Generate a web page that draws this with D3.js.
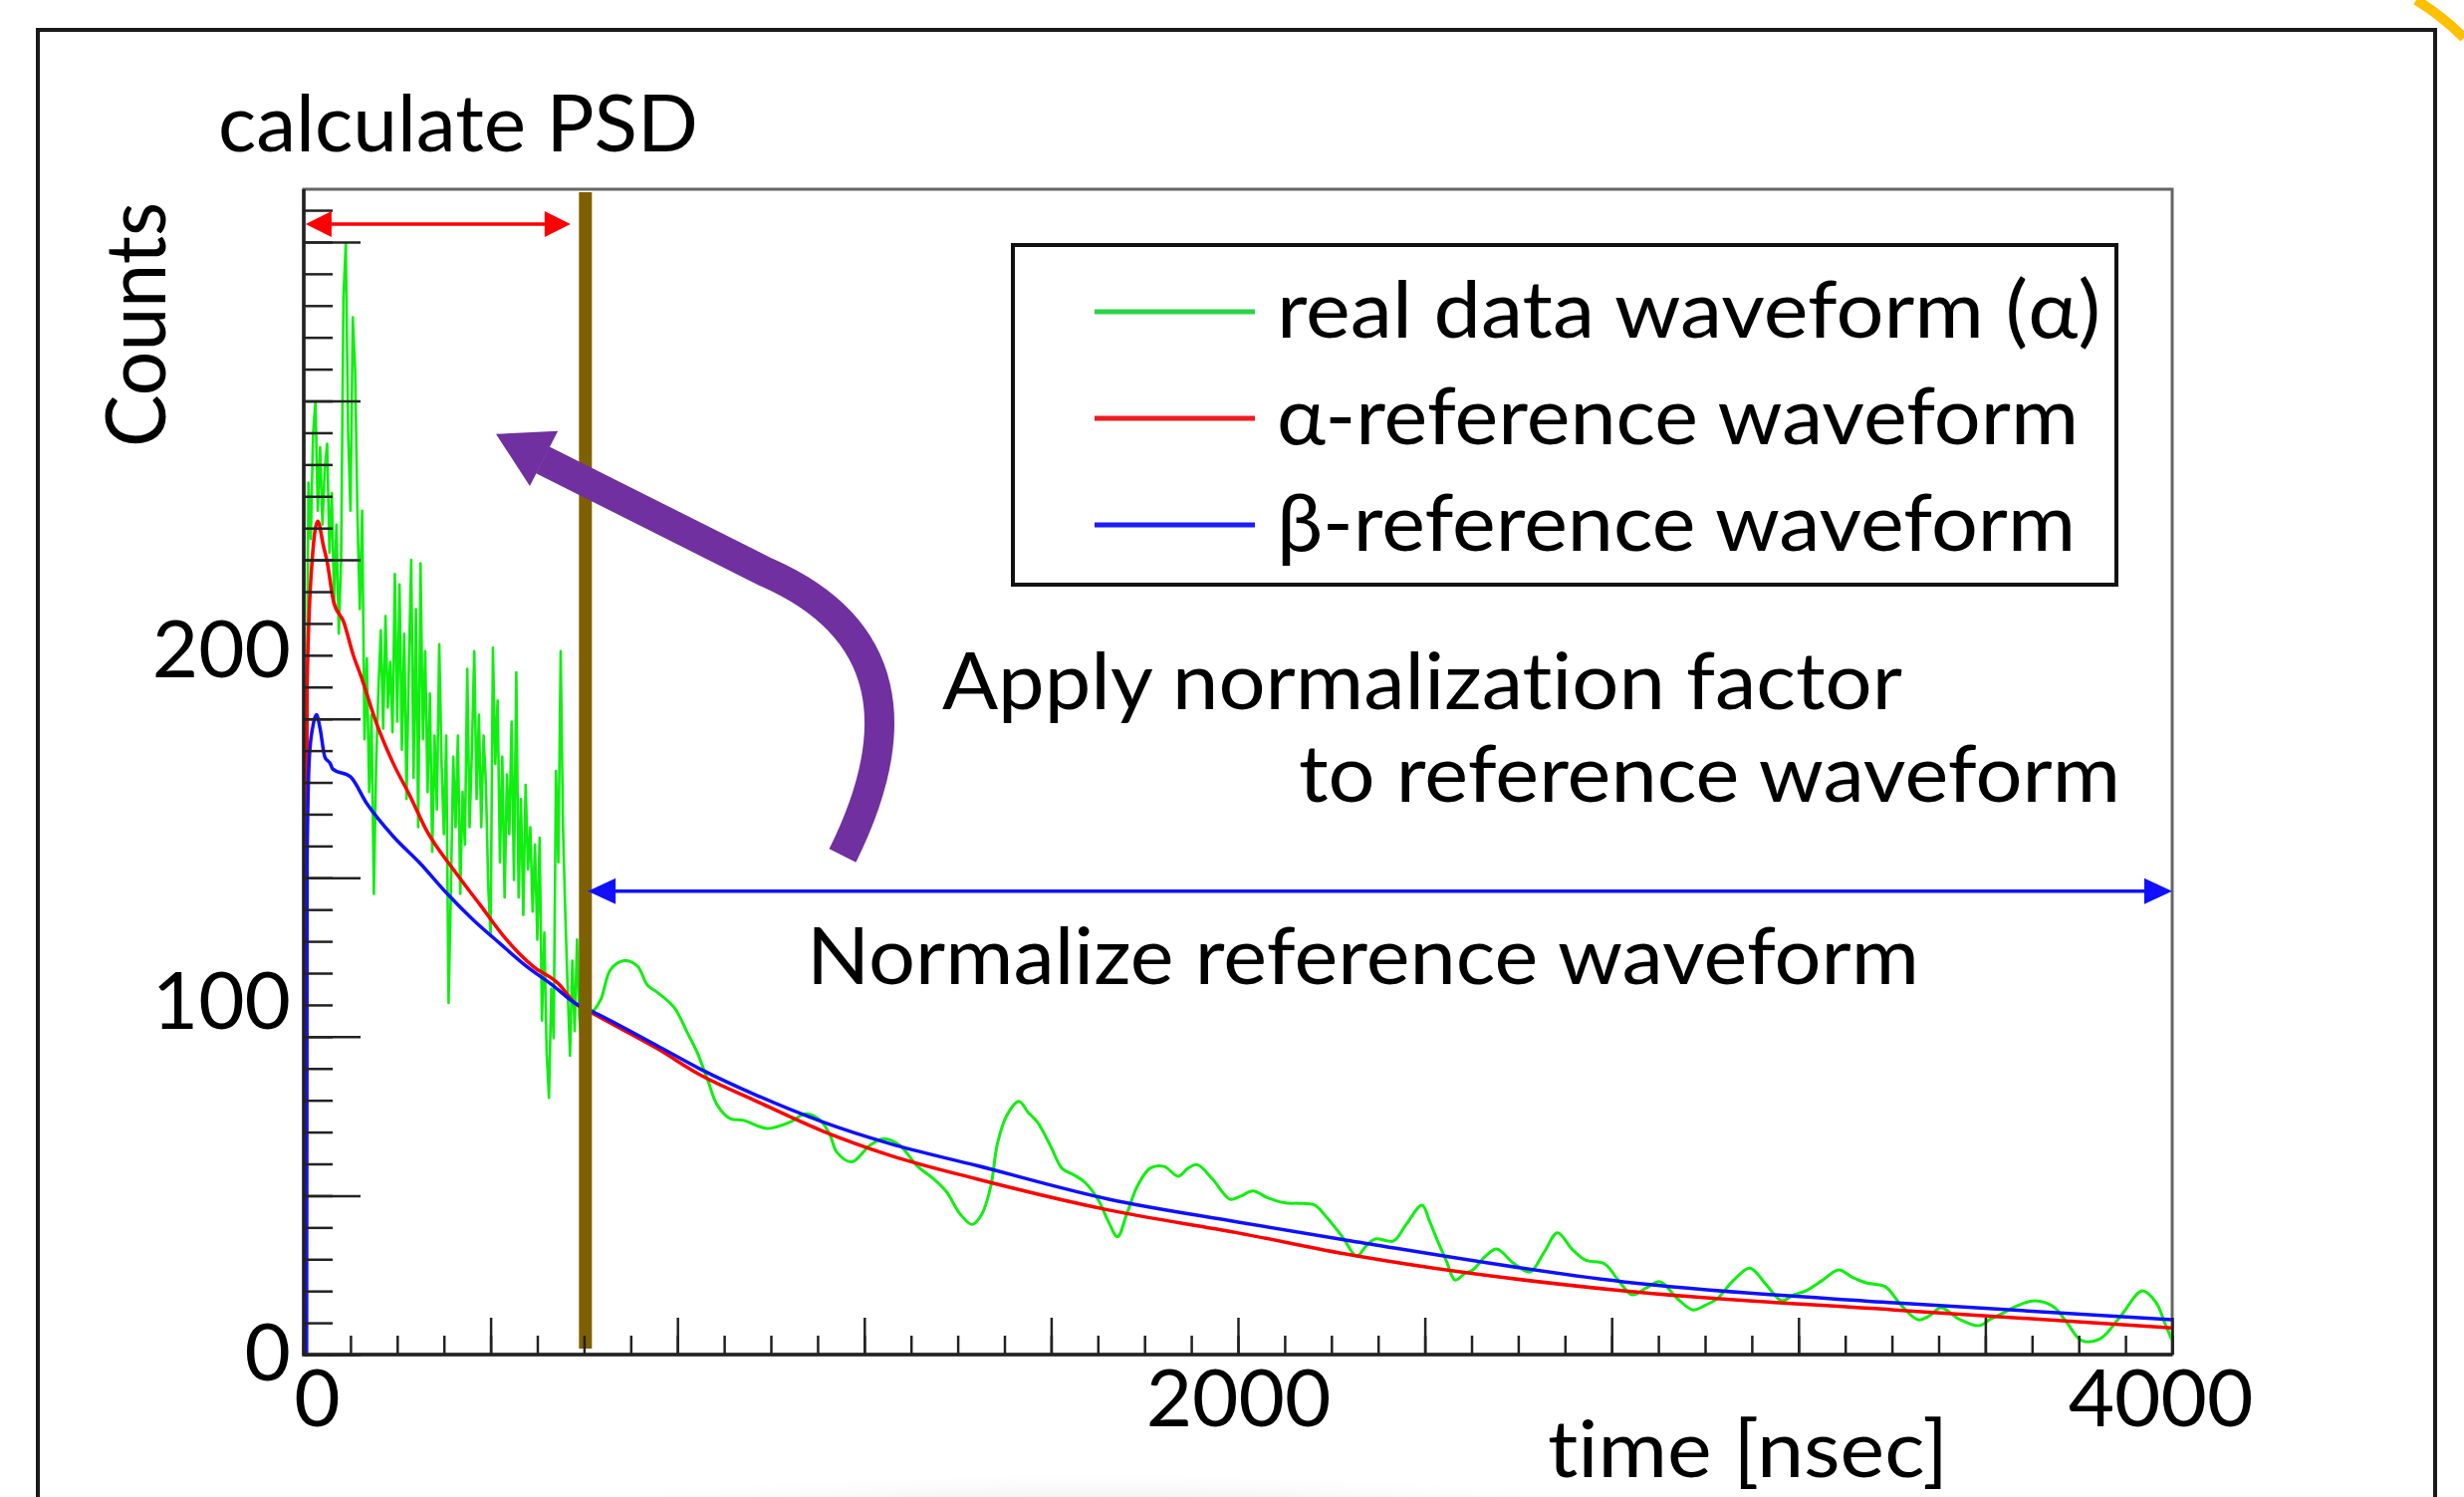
<!DOCTYPE html>
<html>
<head>
<meta charset="utf-8">
<script src="https://cdn.jsdelivr.net/npm/d3@7"></script>
<style>
  html, body { margin: 0; padding: 0; background: #fff; }
  svg { display: block; font-family: Lato, "Open Sans", sans-serif; font-variant-ligatures: none; font-feature-settings: "liga" 0, "clig" 0; }
</style>
</head>
<body>
<svg></svg>
<script>
var svgWidth = 2474;
var svgHeight = 1503;

// axes
var timeRange = [0, 4000];            // nsec
var countsRange = [0, 331.4];
var xTickLabels = [0, 2000, 4000];
var yTickLabels = [0, 100, 200];
var xMajorStep = 400;
var xMinorStep = 100;
var yMajorStep = 45.2;                // tick spacing of the original ROOT axis (counts)

// PSD window edge, nsec
var psdEdge = 603;

// real data waveform, noisy part: 5 nsec bins starting at 0
var realHeadStep = 5;
var realHead = [
  0, 150, 248, 232, 262, 271, 240, 258, 236, 252,
  259, 228, 245, 214, 236, 205, 226, 301, 316, 262,
  240, 295, 280, 238, 212, 240, 175, 198, 160, 182,
  131, 168, 190, 206, 178, 210, 184, 197, 177, 222,
  180, 219, 172, 205, 158, 196, 226, 164, 212, 150,
  225, 175, 200, 160, 188, 143, 176, 155, 202, 168,
  148, 176, 100, 132, 170, 150, 176, 131, 160, 145,
  195, 150, 172, 200, 158, 182, 150, 176, 162, 133,
  119, 201, 168, 186, 140, 170, 130, 165, 148, 180,
  135, 194, 130, 158, 125, 162, 138, 150, 126, 145,
  118, 147, 95, 120, 86, 73, 104, 90, 166, 140,
  200, 150, 125, 104, 85, 112, 92, 118, 96, 88
];

// real data waveform after the PSD edge: [nsec, counts]
var realTail = [
  [600, 95], [618, 97.3], [636, 101], [657, 109.5], [686, 112], [714, 110.5], [736, 105],
  [757, 103], [793, 98.7], [821, 91.6], [842, 86], [864, 78.4], [885, 71], [913, 67.1],
  [942, 66.6], [992, 64.3], [1041, 66.1], [1074, 68.5], [1106, 66.6], [1127, 62.3],
  [1141, 57.6], [1173, 54.8], [1212, 59.5], [1241, 61.4], [1276, 59.5], [1312, 53.8],
  [1348, 50], [1376, 46.3], [1405, 40], [1431, 37], [1452, 40], [1471, 48], [1485, 60],
  [1505, 68], [1531, 72], [1550, 69], [1571, 66], [1600, 59], [1623, 53], [1650, 51],
  [1672, 49], [1701, 44], [1722, 38], [1742, 33.5], [1762, 40], [1785, 48], [1812, 53],
  [1842, 53.5], [1872, 50.7], [1893, 53], [1913, 54], [1945, 50], [1983, 44.2], [2005, 45],
  [2032, 46.5], [2065, 44.5], [2102, 43.1], [2130, 43], [2164, 42.5], [2190, 39],
  [2224, 33.4], [2254, 28], [2275, 31], [2294, 32.9], [2333, 32.3], [2360, 37],
  [2394, 42.5], [2410, 38], [2424, 33.4], [2445, 27], [2465, 21.2], [2485, 23],
  [2503, 24.1], [2530, 28], [2554, 30], [2590, 26], [2625, 23.5], [2655, 29], [2684, 34.6],
  [2715, 30], [2744, 26.9], [2785, 25.8], [2815, 21], [2844, 17], [2875, 19], [2904, 20.7],
  [2940, 16], [2974, 12.7], [3000, 14], [3026, 15.9], [3060, 21], [3096, 24.6], [3130, 20],
  [3164, 15.3], [3190, 17], [3215, 18.1], [3250, 21], [3286, 24.1], [3315, 22], [3345, 20.4],
  [3386, 19.3], [3420, 14], [3456, 9.9], [3480, 11], [3505, 13.3], [3545, 10], [3586, 8.2],
  [3610, 10], [3635, 11.6], [3670, 14], [3706, 15.3], [3746, 13.6], [3775, 9], [3806, 4],
  [3846, 4.5], [3890, 11], [3936, 18.1], [3966, 14.7], [3984, 9], [4000, 4]
];

// alpha reference waveform: [nsec, counts]
var alphaRef = [
  [0, 0], [5, 40], [7, 190], [18, 226], [30, 237], [42, 230], [50, 225.5], [64, 214],
  [85, 208.5], [107, 198.5], [121, 193.5], [156, 179.4], [192, 168], [227, 159], [263, 149],
  [320, 138], [377, 128], [434, 118], [490, 110.5], [545, 105.5], [580, 100], [622, 96.8],
  [757, 87], [849, 79.5], [970, 72], [1112, 63.5], [1254, 56.7], [1439, 50], [1723, 41.1],
  [2000, 34.6], [2243, 28.3], [2825, 18.1], [3405, 12.7], [4000, 7.6]
];

// beta reference waveform: [nsec, counts]
var betaRef = [
  [0, 0], [6, 0], [7, 140], [12, 170], [20, 179], [27, 182], [35, 178], [45, 170],
  [57, 168], [62, 166.5], [100, 164.3], [135, 156.7], [192, 147.3], [249, 139.7],
  [306, 131.2], [362, 123.7], [419, 117], [476, 110.5], [533, 105], [580, 100], [622, 97.3],
  [757, 87.8], [849, 81.2], [970, 73.7], [1112, 66.1], [1254, 60], [1439, 53.8],
  [1723, 44.2], [2000, 37.7], [2243, 32.3], [2825, 20.7], [3405, 14.7], [4000, 9.9]
];

var legendNames = ["real data waveform (\u03b1)", "\u03b1-reference waveform", "\u03b2-reference waveform"];

// annotation anchors in data units [nsec, counts]
var psdArrow = [[4, 321.5], [571, 321.5]];
var normArrow = [[608, 131.8], [4000, 131.8]];
var pushArrow = [[1153.5, 141.9], [1290, 178.5], [1258, 206.8], [991.5, 222.4], [511.7, 254.4]];
var pushTip = [411.5, 261.8];

// ---------------------------------------------------------------------------

var plot = { left: 305, right: 2181, top: 190, bottom: 1360 };

var x = d3.scaleLinear().domain(timeRange).range([plot.left, plot.right]);
var y = d3.scaleLinear().domain(countsRange).range([plot.bottom, plot.top]);

var svg = d3.select("svg")
  .attr("width", svgWidth)
  .attr("height", svgHeight);

svg.append("rect")
  .attr("width", svgWidth)
  .attr("height", svgHeight)
  .attr("fill", "#fff");

// slide decoration: yellow circle peeking in the corner, soft shadow at the bottom
svg.append("path")
  .attr("d", "M2426,0 A260,260 0 0 1 2474,38")
  .attr("fill", "none")
  .attr("stroke", "#ffc000")
  .attr("stroke-width", 10);

var defs = svg.append("defs");
var shade = defs.append("radialGradient").attr("id", "shade");
shade.append("stop").attr("offset", "0%").attr("stop-color", "#e2e2e2");
shade.append("stop").attr("offset", "100%").attr("stop-color", "#fff").attr("stop-opacity", 0);
svg.append("ellipse")
  .attr("cx", 1100).attr("cy", 1520)
  .attr("rx", 620).attr("ry", 45)
  .attr("fill", "url(#shade)");

// outer frame of the picture
svg.append("rect")
  .attr("x", 38).attr("y", 30)
  .attr("width", 2407).attr("height", 1540)
  .attr("fill", "none")
  .attr("stroke", "#1a1a1a")
  .attr("stroke-width", 4);

// plot frame
svg.append("rect")
  .attr("x", plot.left).attr("y", plot.top)
  .attr("width", plot.right - plot.left)
  .attr("height", plot.bottom - plot.top)
  .attr("fill", "none")
  .attr("stroke", "#666")
  .attr("stroke-width", 3);

// curves
var line = d3.line()
  .x(function(d) { return x(d[0]); })
  .y(function(d) { return y(d[1]); });

var headPoints = realHead.map(function(c, i) { return [i * realHeadStep, c]; });
headPoints.push(realTail[0]);

svg.append("path")
  .attr("d", line.curve(d3.curveLinear)(headPoints))
  .attr("fill", "none")
  .attr("stroke", "#11ee11")
  .attr("stroke-width", 2.6)
  .attr("stroke-linejoin", "round");

svg.append("path")
  .attr("d", line.curve(d3.curveCatmullRom.alpha(0.5))(realTail))
  .attr("fill", "none")
  .attr("stroke", "#11ee11")
  .attr("stroke-width", 3);

svg.append("path")
  .attr("d", line.curve(d3.curveMonotoneX)(alphaRef))
  .attr("fill", "none")
  .attr("stroke", "#ff0000")
  .attr("stroke-width", 3.5);

svg.append("path")
  .attr("d", line.curve(d3.curveMonotoneX)(betaRef))
  .attr("fill", "none")
  .attr("stroke", "#1010ff")
  .attr("stroke-width", 3.5);

// PSD window edge
svg.append("line")
  .attr("x1", x(psdEdge)).attr("x2", x(psdEdge))
  .attr("y1", y(0) - 6).attr("y2", plot.top + 3)
  .attr("stroke", "#7f6000")
  .attr("stroke-width", 13);

// axes: ticks point inwards like ROOT
function styleAxis(g) {
  g.select(".domain").remove();
  g.attr("font-family", null).attr("font-size", 80).attr("color", "#222");
  g.selectAll(".tick line").attr("stroke-width", 2.5);
}

svg.append("g")
  .attr("transform", "translate(0," + plot.bottom + ")")
  .call(d3.axisBottom(x).tickValues(d3.range(0, timeRange[1] + 1, xMinorStep)).tickSize(-19).tickFormat(""))
  .call(styleAxis);

svg.append("g")
  .attr("transform", "translate(0," + plot.bottom + ")")
  .call(d3.axisBottom(x).tickValues(d3.range(0, timeRange[1] + 1, xMajorStep)).tickSize(-37).tickFormat(""))
  .call(styleAxis);

var xLabels = svg.append("g")
  .attr("transform", "translate(0," + plot.bottom + ")")
  .call(d3.axisBottom(x).tickValues(xTickLabels).tickSize(0).tickPadding(15).tickFormat(d3.format("d")))
  .call(styleAxis);
xLabels.selectAll("text")
  .attr("fill", "#000")
  .attr("dx", function(d) { return d === timeRange[0] ? 13 : (d === timeRange[1] ? -12 : 0); });

var yTicks = d3.range(0, countsRange[1], yMajorStep / 5);

svg.append("g")
  .attr("transform", "translate(" + plot.left + ",0)")
  .call(d3.axisLeft(y).tickValues(yTicks).tickSize(-29).tickFormat(""))
  .call(styleAxis);

svg.append("g")
  .attr("transform", "translate(" + plot.left + ",0)")
  .call(d3.axisLeft(y).tickValues(yTicks.filter(function(d, i) { return i % 5 === 0; })).tickSize(-57).tickFormat(""))
  .call(styleAxis);

svg.append("g")
  .attr("transform", "translate(" + plot.left + ",0)")
  .call(d3.axisLeft(y).tickValues(yTickLabels).tickSize(0).tickPadding(13).tickFormat(d3.format("d")))
  .call(styleAxis)
  .selectAll("text").attr("fill", "#000");

// axis lines on top of the frame
svg.append("path")
  .attr("d", "M" + plot.left + "," + plot.top + "V" + plot.bottom + "H" + plot.right)
  .attr("fill", "none")
  .attr("stroke", "#222")
  .attr("stroke-width", 3.5);

// arrows
function arrowHead(tip, from, len, half) {
  var dx = tip[0] - from[0], dy = tip[1] - from[1];
  var n = Math.sqrt(dx * dx + dy * dy);
  var ux = dx / n, uy = dy / n;
  var bx = tip[0] - ux * len, by = tip[1] - uy * len;
  return [tip, [bx - uy * half, by + ux * half], [bx + uy * half, by - ux * half]];
}

function doubleArrow(span, color, len, half) {
  var a = [x(span[0][0]), y(span[0][1])];
  var b = [x(span[1][0]), y(span[1][1])];
  svg.append("line")
    .attr("x1", a[0] + len - 2).attr("y1", a[1])
    .attr("x2", b[0] - len + 2).attr("y2", b[1])
    .attr("stroke", color)
    .attr("stroke-width", 3.5);
  svg.selectAll(null)
    .data([arrowHead(a, b, len, half), arrowHead(b, a, len, half)])
    .enter()
    .append("polygon")
    .attr("points", function(d) { return d.join(" "); })
    .attr("fill", color);
}

doubleArrow(psdArrow, "#ff0000", 26, 13);
doubleArrow(normArrow, "#1010ff", 28, 13);

// purple arrow pointing back to the PSD window
var pp = pushArrow.map(function(d) { return [x(d[0]), y(d[1])]; });
svg.append("path")
  .attr("d", "M" + pp[0] + "C" + pp[1] + " " + pp[2] + " " + pp[3] + "L" + pp[4])
  .attr("fill", "none")
  .attr("stroke", "#7030a0")
  .attr("stroke-width", 30);

var tip = [x(pushTip[0]), y(pushTip[1])];
svg.append("polygon")
  .attr("points", arrowHead(tip, pp[3], 54, 31).join(" "))
  .attr("fill", "#7030a0");

// legend
var legendColors = ["#2ad44a", "#ee1c1c", "#1c1cff"];
var legendWidths = [827, 805, 802];

var legend = svg.append("g").attr("transform", "translate(1017,246)");
legend.append("rect")
  .attr("width", 1108)
  .attr("height", 341)
  .attr("fill", "#fff")
  .attr("stroke", "#111")
  .attr("stroke-width", 4);

var rows = legend.selectAll("g.row")
  .data(legendNames)
  .enter()
  .append("g")
  .attr("class", "row")
  .attr("transform", function(d, i) { return "translate(0," + (67 + i * 107) + ")"; });

rows.append("line")
  .attr("x1", 82).attr("x2", 243)
  .attr("stroke", function(d, i) { return legendColors[i]; })
  .attr("stroke-width", 5);

rows.append("text")
  .attr("x", 265)
  .attr("y", 26)
  .attr("font-size", 80)
  .attr("textLength", function(d, i) { return legendWidths[i]; })
  .attr("lengthAdjust", "spacingAndGlyphs")
  .text(function(d) { return d; });

// texts
var notes = [
  { text: "calculate PSD", x: 219, y: 152, w: 482 },
  { text: "Apply normalization factor", x: 946, y: 712, w: 964 },
  { text: "to reference waveform", x: 1304, y: 805, w: 825 },
  { text: "Normalize reference waveform", x: 810, y: 988, w: 1117 },
  { text: "time [nsec]", x: 1554, y: 1483, w: 402 }
];

svg.selectAll("text.note")
  .data(notes)
  .enter()
  .append("text")
  .attr("class", "note")
  .attr("x", function(d) { return d.x; })
  .attr("y", function(d) { return d.y; })
  .attr("font-size", 80)
  .attr("textLength", function(d) { return d.w; })
  .attr("lengthAdjust", "spacingAndGlyphs")
  .text(function(d) { return d.text; });

svg.append("text")
  .attr("transform", "translate(166,449) rotate(-90)")
  .attr("font-size", 83)
  .attr("textLength", 246)
  .attr("lengthAdjust", "spacingAndGlyphs")
  .text("Counts");
</script>
</body>
</html>
